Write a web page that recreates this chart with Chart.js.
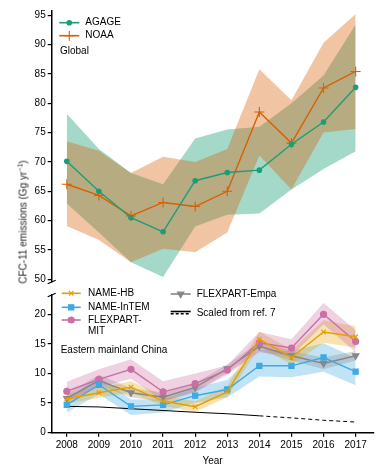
<!DOCTYPE html>
<html>
<head>
<meta charset="utf-8">
<script src="https://cdn.jsdelivr.net/npm/chart.js@4.4.1/dist/chart.umd.min.js"></script>
<style>
  body { margin: 0; background: #fff; font-family: "Liberation Sans", Arial, sans-serif; }
  #wrap { position: relative; width: 390px; height: 472px; overflow: hidden; }
  #top-chart { position: absolute; left: 0; top: 0; }
  #bottom-chart { position: absolute; left: 0; top: 287px; }
  #ytitle {
    position: absolute; left: 22.5px; top: 222px;
    transform: translate(-50%, -50%) rotate(-90deg);
    font-size: 10px; font-weight: 400; white-space: nowrap; color: #222;
  }
  #ytitle sup { font-size: 7px; vertical-align: 4px; line-height: 0; }
</style>
</head>
<body>
<div id="wrap">
  <canvas id="top-chart" width="390" height="290"></canvas>
  <canvas id="bottom-chart" width="390" height="185"></canvas>
  <div id="ytitle">CFC-11 emissions (Gg yr<sup>−1</sup>)</div>
</div>
<script>
// Shared x values
const years = [2008, 2009, 2010, 2011, 2012, 2013, 2014, 2015, 2016, 2017];
const topTicks = [50, 55, 60, 65, 70, 75, 80, 85, 90, 95];
const bottomTicks = [0, 5, 10, 15, 20];

// Global (Gg/yr)
const agage = [70.1, 65.0, 60.5, 58.1, 66.8, 68.2, 68.6, 73.0, 76.8, 82.7];
const agageHi = [78.2, 72.2, 68.1, 66.2, 74.0, 75.5, 76.0, 80.0, 84.7, 93.4];
const agageLo = [62.9, 58.0, 52.9, 50.4, 59.0, 61.0, 61.2, 65.3, 68.8, 71.8];
const noaa = [66.2, 64.3, 60.8, 63.1, 62.4, 65.0, 78.5, 73.2, 82.6, 85.4];
const noaaHi = [73.5, 71.9, 68.1, 70.9, 70.0, 72.2, 85.8, 80.5, 90.3, 95.2];
const noaaLo = [59.1, 56.7, 52.9, 55.2, 54.6, 58.0, 71.1, 65.3, 75.0, 75.6];

// Eastern mainland China (Gg/yr)
const nameHB = [5.7, 6.75, 7.7, 5.35, 4.4, 6.9, 15.8, 12.7, 17.0, 16.2];
const nameHBHi = [6.6, 7.6, 8.7, 6.3, 5.3, 7.9, 17.1, 14.0, 19.0, 18.0];
const nameHBLo = [4.9, 5.9, 6.8, 4.5, 3.5, 6.0, 14.5, 11.5, 15.2, 14.4];
const intem = [4.7, 8.1, 4.45, 4.7, 6.25, 7.3, 11.3, 11.3, 12.7, 10.3];
const intemHi = [5.7, 9.5, 5.6, 5.6, 7.6, 8.9, 14.0, 13.8, 15.1, 12.6];
const intemLo = [3.4, 6.5, 3.0, 3.4, 5.0, 6.0, 9.5, 9.35, 10.3, 8.0];
const flexMIT = [7.0, 9.0, 10.7, 6.9, 8.3, 10.6, 15.2, 14.3, 20.0, 15.4];
const flexMITHi = [8.6, 10.7, 12.4, 8.7, 10.0, 11.4, 17.0, 15.8, 21.9, 17.3];
const flexMITLo = [5.6, 7.6, 9.1, 5.4, 6.8, 9.8, 13.6, 12.9, 18.3, 13.6];
const flexEmpa = [5.8, 8.8, 6.75, 6.0, 7.65, 10.8, 14.6, 13.0, 11.7, 13.0];
const flexEmpaHi = [6.6, 9.8, 7.5, 6.8, 8.4, 11.5, 15.4, 13.8, 12.7, 13.8];
const flexEmpaLo = [5.0, 8.0, 6.0, 5.2, 6.9, 10.1, 13.8, 12.2, 10.7, 12.2];
const scaledRef7 = [4.45, 4.35, 4.05, 3.75, 3.45, 3.2, 2.85, 2.5, 2.1, 1.8];
const solidUntil = 2014; // dashed after this year

const FONT = '"Liberation Sans", Arial, sans-serif';
const xMin = 2007.53;
const xMax = 2017.55;
const axisLeft = 51.7;

const pts = (vals) => years.map((y, i) => ({ x: y, y: vals[i] }));

function band(lo, hi, color) {
  // lower edge + upper edge filled down to it
  return [
    { data: pts(lo), borderWidth: 0, pointRadius: 0, fill: false, order: 5 },
    { data: pts(hi), borderWidth: 0, pointRadius: 0, fill: "-1", backgroundColor: color, order: 5 },
  ];
}

function line(label, vals, color, style, radius, extra) {
  return Object.assign({
    label: label,
    data: pts(vals),
    borderColor: color,
    backgroundColor: color,
    pointBackgroundColor: color,
    pointBorderColor: color,
    borderWidth: 1.4,
    pointStyle: style,
    pointRadius: radius,
    pointBorderWidth: 1.2,
    fill: false,
    order: 0,
  }, extra || {});
}

// Legend and labels drawn inside the plot
const insideText = {
  id: "insideText",
  afterDraw(chart, args, opts) {
    const ctx = chart.ctx;
    ctx.save();
    ctx.font = "10px " + FONT;
    ctx.textBaseline = "middle";
    (opts.keys || []).forEach((k) => {
      const ds = chart.data.datasets.find((d) => d.label === k.label);
      ctx.strokeStyle = ds.borderColor;
      ctx.lineWidth = 1.6;
      (k.dashes || [[]]).forEach((dash, j) => {
        ctx.setLineDash(dash);
        ctx.beginPath();
        ctx.moveTo(k.x, k.y + j * 2.2);
        ctx.lineTo(k.x + k.w, k.y + j * 2.2);
        ctx.stroke();
      });
      ctx.setLineDash([]);
      if (ds.pointRadius) {
        ctx.fillStyle = ds.borderColor;
        ctx.lineWidth = ds.pointBorderWidth;
        Chart.helpers.drawPoint(ctx, {
          pointStyle: ds.pointStyle,
          radius: ds.pointRadius,
          rotation: ds.pointRotation || 0,
          borderWidth: ds.pointBorderWidth,
        }, k.x + k.w / 2, k.y);
      }
      ctx.fillStyle = "#000";
      const lines = k.lines || [k.label];
      lines.forEach((t, i) => ctx.fillText(t, k.tx, k.ty + i * 11.7));
    });
    (opts.notes || []).forEach((n) => {
      ctx.fillStyle = "#000";
      ctx.fillText(n.text, n.x, n.y);
    });
    // axis break marks
    if (opts.breakAt) {
      const bx = chart.chartArea.left;
      const by = opts.breakAt === "bottom" ? chart.chartArea.bottom : chart.chartArea.top;
      ctx.strokeStyle = "#000";
      ctx.lineWidth = 1.2;
      ctx.beginPath();
      ctx.moveTo(bx - 4, by + 1.8);
      ctx.lineTo(bx + 4, by - 1.8);
      ctx.stroke();
    }
    ctx.restore();
  },
};

function yAxis(min, max, tickVals) {
  return {
    min: min,
    max: max,
    afterFit: (s) => { s.width = axisLeft; },
    afterBuildTicks: (s) => { s.ticks = tickVals.map((v) => ({ value: v })); },
    grid: { display: true, drawOnChartArea: false, tickLength: 4, color: "#000", lineWidth: 1.2 },
    border: { display: true, color: "#000", width: 1.5 },
    ticks: { color: "#000", font: { size: 10, family: FONT }, padding: 2 },
  };
}

// Top panel: global
new Chart(document.getElementById("top-chart"), {
  type: "line",
  data: {
    datasets: [
      line("AGAGE", agage, "#1b9e77", "circle", 2.2),
      line("NOAA", noaa, "#d95f02", "cross", 5, { pointBorderWidth: 1.1 }),
      ...band(noaaLo, noaaHi, "rgba(217, 95, 2, 0.36)"),
      ...band(agageLo, agageHi, "rgba(27, 158, 119, 0.40)"),
    ],
  },
  options: {
    responsive: false,
    animation: false,
    layout: { padding: { top: 11, bottom: 3, left: 0, right: 16.7 } },
    plugins: {
      legend: { display: false },
      tooltip: { enabled: false },
      insideText: {
        keys: [
          { label: "AGAGE", x: 59.3, y: 22.7, w: 20, tx: 85.3, ty: 22.7 },
          { label: "NOAA", x: 59.3, y: 35.7, w: 20, tx: 85.3, ty: 35.7 },
        ],
        notes: [{ text: "Global", x: 60, y: 51.7 }],
        breakAt: "bottom",
      },
    },
    scales: {
      x: { type: "linear", min: xMin, max: xMax, display: false },
      y: yAxis(49.55, 95.7, topTicks),
    },
  },
  plugins: [insideText],
});

// Bottom panel: eastern mainland China
new Chart(document.getElementById("bottom-chart"), {
  type: "line",
  data: {
    datasets: [
      line("NAME-HB", nameHB, "#e69f00", "crossRot", 3.2),
      line("NAME-InTEM", intem, "#3fa9e3", "rect", 3.6),
      line("FLEXPART-MIT", flexMIT, "#cc6fa6", "circle", 3),
      line("FLEXPART-Empa", flexEmpa, "#878787", "triangle", 3.6, { pointRotation: 180 }),
      line("Scaled from ref. 7", scaledRef7, "#000", "circle", 0, {
        borderWidth: 1,
        segment: { borderDash: (c) => (years[c.p0DataIndex] >= solidUntil ? [4, 3] : undefined) },
      }),
      ...band(flexMITLo, flexMITHi, "rgba(204, 111, 166, 0.32)"),
      ...band(nameHBLo, nameHBHi, "rgba(230, 159, 0, 0.30)"),
      ...band(flexEmpaLo, flexEmpaHi, "rgba(135, 135, 135, 0.30)"),
      ...band(intemLo, intemHi, "rgba(63, 169, 227, 0.32)"),
    ],
  },
  options: {
    responsive: false,
    animation: false,
    layout: { padding: { top: 8, bottom: 0, left: 0, right: 16.7 } },
    plugins: {
      legend: { display: false },
      tooltip: { enabled: false },
      insideText: {
        keys: [
          { label: "NAME-HB", x: 61.7, y: 6.3, w: 19, tx: 88, ty: 6.3 },
          { label: "NAME-InTEM", x: 61.7, y: 20.3, w: 19, tx: 88, ty: 20.3 },
          { label: "FLEXPART-MIT", lines: ["FLEXPART-", "MIT"], x: 61.7, y: 33, w: 19, tx: 88, ty: 33 },
          { label: "FLEXPART-Empa", x: 170.7, y: 7, w: 20, tx: 196.7, ty: 7 },
          { label: "Scaled from ref. 7", dashes: [[], [3, 2]], x: 170.7, y: 24.5, w: 20, tx: 196.7, ty: 26.3 },
        ],
        notes: [{ text: "Eastern mainland China", x: 60.7, y: 63.7 }],
        breakAt: "top",
      },
    },
    scales: {
      x: {
        type: "linear",
        min: xMin,
        max: xMax,
        afterFit: (s) => { s.height = 39.3; },
        afterBuildTicks: (s) => { s.ticks = years.map((v) => ({ value: v })); },
        grid: { display: true, drawOnChartArea: false, tickLength: 4, color: "#000", lineWidth: 1.2 },
        border: { display: true, color: "#000", width: 1.6 },
        ticks: {
          color: "#000",
          font: { size: 10, family: FONT },
          padding: 3,
          maxRotation: 0,
          callback: (v) => String(v),
        },
        title: {
          display: true,
          text: "Year",
          color: "#000",
          font: { size: 10, family: FONT },
          padding: { top: 0, bottom: 5 },
        },
      },
      y: yAxis(0, 23.26, bottomTicks),
    },
  },
  plugins: [insideText],
});
</script>
</body>
</html>
